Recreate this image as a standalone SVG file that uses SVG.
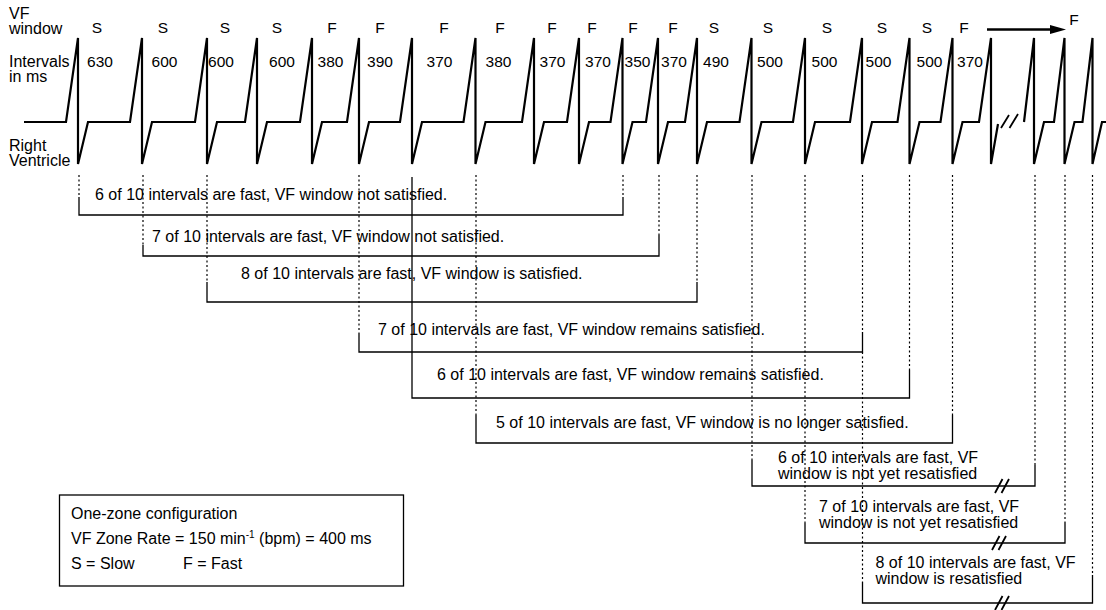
<svg xmlns="http://www.w3.org/2000/svg" width="1106" height="610" viewBox="0 0 1106 610">
<style>
text{font-family:"Liberation Sans",Arial,sans-serif;font-size:16px;fill:#000}
.lab{font-size:15.5px;text-anchor:middle}
.wave{fill:none;stroke:#000;stroke-width:2.2;stroke-linejoin:miter}
.br{fill:none;stroke:#000;stroke-width:1.3}
.dot{fill:none;stroke:#000;stroke-width:1.2;stroke-dasharray:2 2.5}
.sl{stroke:#000;stroke-width:1.8;fill:none}
</style>
<rect width="1106" height="610" fill="#fff"/>
<g id="row-labels">
<text x="9" y="19">VF</text>
<text x="9" y="34">window</text>
<text x="9" y="67">Intervals</text>
<text x="9" y="82">in ms</text>
<text x="9" y="151">Right</text>
<text x="9" y="166">Ventricle</text>
</g>
<g id="vf-window-labels" class="lab">
<text class="lab" x="97" y="33">S</text>
<text class="lab" x="163" y="33">S</text>
<text class="lab" x="225" y="33">S</text>
<text class="lab" x="277" y="33">S</text>
<text class="lab" x="332" y="33">F</text>
<text class="lab" x="380" y="33">F</text>
<text class="lab" x="444" y="33">F</text>
<text class="lab" x="500" y="33">F</text>
<text class="lab" x="552" y="33">F</text>
<text class="lab" x="592" y="33">F</text>
<text class="lab" x="633" y="33">F</text>
<text class="lab" x="673" y="33">F</text>
<text class="lab" x="714" y="33">S</text>
<text class="lab" x="768" y="33">S</text>
<text class="lab" x="827" y="33">S</text>
<text class="lab" x="882" y="33">S</text>
<text class="lab" x="927" y="33">S</text>
<text class="lab" x="964" y="33">F</text>
<text x="1074" y="25" style="font-size:15.5px">F</text>
</g>
<g id="interval-values">
<text class="lab" x="100" y="67">630</text>
<text class="lab" x="164.5" y="67">600</text>
<text class="lab" x="221" y="67">600</text>
<text class="lab" x="282" y="67">600</text>
<text class="lab" x="330.5" y="67">380</text>
<text class="lab" x="380" y="67">390</text>
<text class="lab" x="439.5" y="67">370</text>
<text class="lab" x="498.5" y="67">380</text>
<text class="lab" x="552.5" y="67">370</text>
<text class="lab" x="598" y="67">370</text>
<text class="lab" x="637.5" y="67">350</text>
<text class="lab" x="674" y="67">370</text>
<text class="lab" x="716" y="67">490</text>
<text class="lab" x="770" y="67">500</text>
<text class="lab" x="824.5" y="67">500</text>
<text class="lab" x="878.5" y="67">500</text>
<text class="lab" x="929.5" y="67">500</text>
<text class="lab" x="970" y="67">370</text>
</g>
<g id="waveform">
<path class="wave" d="M24,122 L66,122 L78,38 L78,164 L88,122 L130,122 L142,38 L142,164 L152,122 L195,122 L207,38 L207,164 L217,122 L245,122 L257,38 L257,164 L267,122 L300,122 L312,38 L312,164 L322,122 L347,122 L359,38 L359,164 L369,122 L400,122 L412,38 L412,164 L422,122 L463.5,122 L475.5,38 L475.5,164 L485.5,122 L522,122 L534,38 L534,164 L544,122 L567,122 L579,38 L579,164 L589,122 L610.5,122 L622.5,38 L622.5,164 L632.5,122 L646,122 L658,38 L658,164 L668,122 L685,122 L697,38 L697,164 L707,122 L739.5,122 L751.5,38 L751.5,164 L761.5,122 L793,122 L805,38 L805,164 L815,122 L850,122 L862,38 L862,164 L872,122 L897.5,122 L909.5,38 L909.5,164 L919.5,122 L940.5,122 L952.5,38 L952.5,164 L962.5,122 L979,122 L991,38 L991,164 L998,124"/>
<path class="wave" d="M1024,122 L1034,38 L1034,164 L1044,122 L1054,122 L1064.5,38 L1064.5,164 L1074.5,122 L1082.5,122 L1092.5,38 L1092.5,164 L1102,122 L1106,122"/>
<path class="sl" d="M1001,128 L1009,115 M1009.5,128 L1018,114"/>
</g>
<g id="arrow">
<line x1="987" y1="29.5" x2="1052" y2="29.5" stroke="#000" stroke-width="2.5"/>
<polygon points="1050,25 1066,29.5 1050,34" fill="#000"/>
</g>
<g id="connectors">
<path class="dot" d="M79,175 V197 M623,175 V197 M143,175 V245 M659,175 V235 M207,175 V282 M697,175 V282 M359,175 V333 M862.5,175 V332 M909.5,175 V370 M476,175 V415 M952.5,175 V415 M752,175 V460 M1035,175 V465 M805,175 V523 M1065,175 V522 M862.5,352 V582 M1092.5,175 V575"/>
<path class="br" d="M79,197 V215 H623 V197"/>
<path class="br" d="M143,245 V256 H659 V235"/>
<path class="br" d="M207,282 V302 H697 V282"/>
<path class="br" d="M359,333 V352 H862.5 V332"/>
<path class="br" d="M412,177 V398 H909.5 V370"/>
<path class="br" d="M476,415 V443 H952.5 V415"/>
<path class="br" d="M752,460 V486 H1035 V465"/>
<path class="br" d="M805,523 V543 H1065 V522"/>
<path class="br" d="M862.5,582 V603 H1092.5 V575"/>
<path class="sl" d="M995,493 L1002.5,479 M1001.5,493 L1009,479"/>
<path class="sl" d="M992,550 L999.5,536 M998.5,550 L1006,536"/>
<path class="sl" d="M995,610 L1002.5,596 M1001.5,610 L1009,596"/>
</g>
<g id="note-1"><text x="95" y="200">6 of 10 intervals are fast, VF window not satisfied.</text></g>
<g id="note-2"><text x="152" y="242">7 of 10 intervals are fast, VF window not satisfied.</text></g>
<g id="note-3"><text x="241" y="279">8 of 10 intervals are fast, VF window is satisfied.</text></g>
<g id="note-4"><text x="378" y="335">7 of 10 intervals are fast, VF window remains satisfied.</text></g>
<g id="note-5"><text x="437" y="380">6 of 10 intervals are fast, VF window remains satisfied.</text></g>
<g id="note-6"><text x="496" y="428">5 of 10 intervals are fast, VF window is no longer satisfied.</text></g>
<g id="note-7"><text x="778" y="462.5">6 of 10 intervals are fast, VF</text><text x="778" y="479">window is not yet resatisfied</text></g>
<g id="note-8"><text x="819" y="511.5">7 of 10 intervals are fast, VF</text><text x="819" y="528">window is not yet resatisfied</text></g>
<g id="note-9"><text x="875.5" y="567.5">8 of 10 intervals are fast, VF</text><text x="875.5" y="584">window is resatisfied</text></g>
<g id="legend">
<rect x="59.5" y="495" width="344" height="91" fill="none" stroke="#000" stroke-width="1.3"/>
<text x="71" y="518.5">One-zone configuration</text>
<text x="71" y="544">VF Zone Rate = 150 min<tspan font-size="10" dy="-6">-1</tspan><tspan dy="6"> (bpm) = 400 ms</tspan></text>
<text x="71" y="569">S = Slow</text>
<text x="183" y="569">F = Fast</text>
</g>
</svg>
